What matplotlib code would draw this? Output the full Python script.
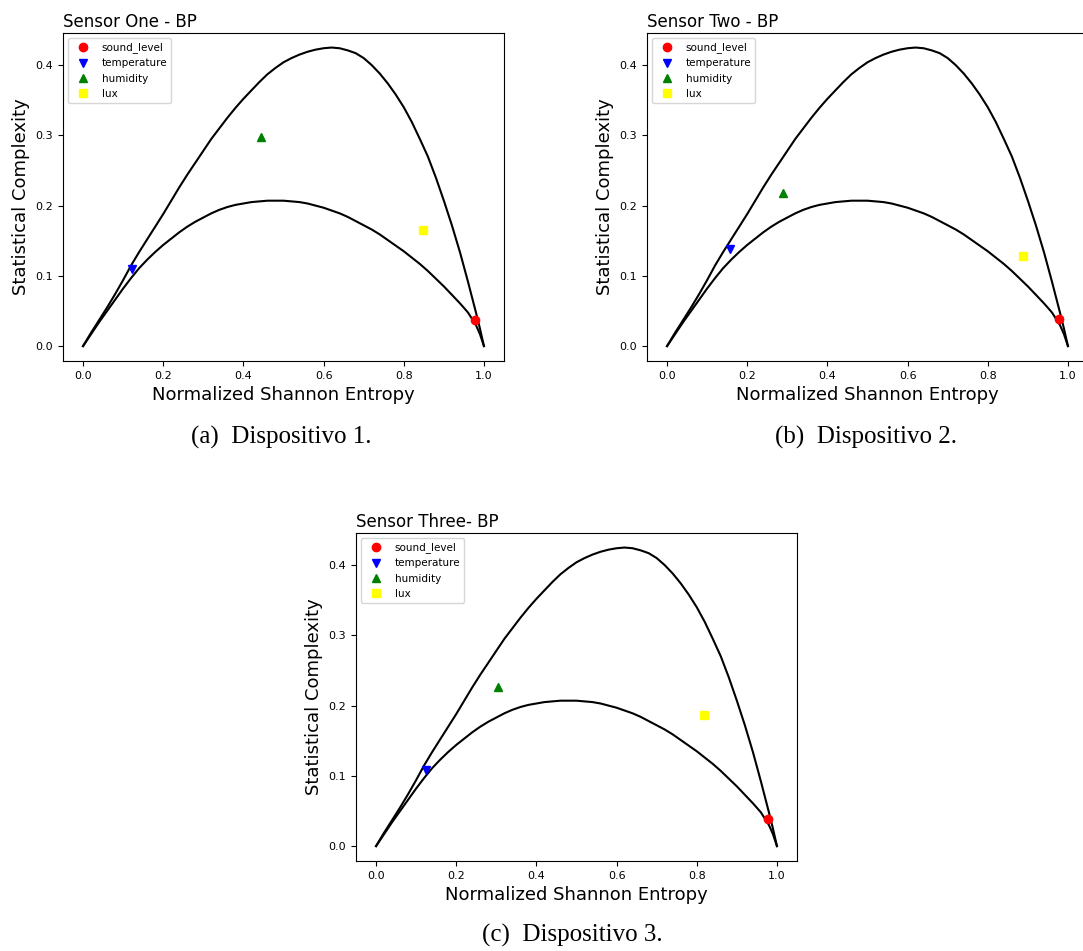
import matplotlib
matplotlib.use("Agg")
import matplotlib.pyplot as plt

# Boundary curves of the complexity-entropy plane
upper_H = [0.0, 0.02, 0.04, 0.06, 0.08, 0.10, 0.12, 0.14, 0.16, 0.18, 0.20,
           0.22, 0.24, 0.26, 0.28, 0.30, 0.32, 0.34, 0.36, 0.38, 0.40, 0.42,
           0.44, 0.46, 0.48, 0.50, 0.52, 0.54, 0.56, 0.58, 0.60, 0.62, 0.64,
           0.66, 0.68, 0.70, 0.72, 0.74, 0.76, 0.78, 0.80, 0.82, 0.84, 0.86,
           0.88, 0.90, 0.92, 0.94, 0.96, 0.98, 0.99, 1.0]
upper_C = [0.0, 0.019, 0.037, 0.055, 0.074, 0.094, 0.115, 0.134, 0.152, 0.170,
           0.188, 0.207, 0.226, 0.244, 0.261, 0.278, 0.295, 0.310, 0.325,
           0.339, 0.352, 0.364, 0.376, 0.387, 0.396, 0.404, 0.410, 0.415,
           0.419, 0.422, 0.424, 0.425, 0.424, 0.421, 0.417, 0.410, 0.400,
           0.388, 0.374, 0.358, 0.340, 0.319, 0.295, 0.270, 0.240, 0.207,
           0.172, 0.134, 0.092, 0.048, 0.025, 0.0]
lower_H = [0.0, 0.02, 0.04, 0.06, 0.08, 0.10, 0.12, 0.14, 0.16, 0.18, 0.20,
           0.22, 0.24, 0.26, 0.28, 0.30, 0.32, 0.34, 0.36, 0.38, 0.40, 0.42,
           0.44, 0.46, 0.48, 0.50, 0.52, 0.54, 0.56, 0.58, 0.60, 0.62, 0.64,
           0.66, 0.68, 0.70, 0.72, 0.74, 0.76, 0.78, 0.80, 0.82, 0.84, 0.86,
           0.88, 0.90, 0.92, 0.94, 0.96, 0.98, 0.99, 1.0]
lower_C = [0.0, 0.017, 0.034, 0.050, 0.066, 0.082, 0.097, 0.111, 0.123, 0.134,
           0.144, 0.153, 0.162, 0.170, 0.177, 0.183, 0.189, 0.194, 0.198,
           0.201, 0.203, 0.205, 0.206, 0.207, 0.207, 0.207, 0.206, 0.205,
           0.203, 0.200, 0.197, 0.193, 0.189, 0.184, 0.178, 0.172, 0.166,
           0.159, 0.151, 0.143, 0.135, 0.126, 0.117, 0.107, 0.096, 0.085,
           0.073, 0.061, 0.048, 0.030, 0.017, 0.0]

variables = ["sound_level", "temperature", "humidity", "lux"]
markers = ["o", "v", "^", "s"]
colors = ["red", "blue", "green", "yellow"]

titles = ["Sensor One - BP", "Sensor Two - BP", "Sensor Three- BP"]
captions = ["(a)  Dispositivo 1.", "(b)  Dispositivo 2.", "(c)  Dispositivo 3."]

# entropy / complexity per sensor, order = variables
s1_H = [0.978, 0.123, 0.445, 0.849]
s1_C = [0.037, 0.110, 0.297, 0.165]
s2_H = [0.977, 0.156, 0.288, 0.889]
s2_C = [0.038, 0.138, 0.218, 0.128]
s3_H = [0.978, 0.124, 0.303, 0.817]
s3_C = [0.039, 0.108, 0.227, 0.186]
sensors_H = [s1_H, s2_H, s3_H]
sensors_C = [s1_C, s2_C, s3_C]

W, H = 1083, 951
fig = plt.figure(figsize=(W / 100, H / 100), dpi=100)

# axes boxes in pixels: left, top, right, bottom
boxes = [(63, 33, 504, 361), (647, 33, 1088, 361), (356, 533, 797, 861)]
cap_pos = [(281, 437), (866, 437), (572, 935)]

for i in range(3):
    l, t, r, b = boxes[i]
    ax = fig.add_axes([l / W, 1 - b / H, (r - l) / W, (b - t) / H])
    ax.plot(upper_H, upper_C, color="black", lw=1.5)
    ax.plot(lower_H, lower_C, color="black", lw=1.5)
    for j, v in enumerate(variables):
        ax.plot(sensors_H[i][j], sensors_C[i][j], linestyle="none",
                marker=markers[j], color=colors[j], markersize=6, label=v)
    ax.set_xlim(-0.05, 1.05)
    ax.set_ylim(-0.0212, 0.4457)
    ax.set_xticks([0.0, 0.2, 0.4, 0.6, 0.8, 1.0])
    ax.set_yticks([0.0, 0.1, 0.2, 0.3, 0.4])
    ax.tick_params(labelsize=8)
    ax.set_xlabel("Normalized Shannon Entropy", fontsize=13)
    ax.set_ylabel("Statistical Complexity", fontsize=13)
    ax.set_title(titles[i], loc="left", fontsize=12, pad=4)
    ax.legend(loc="upper left", fontsize=7.5)
    cx, cy = cap_pos[i]
    fig.text(cx / W, 1 - cy / H, captions[i], ha="center", va="center",
             fontsize=18, family="Liberation Serif")

fig.savefig("out.png", dpi=100)
